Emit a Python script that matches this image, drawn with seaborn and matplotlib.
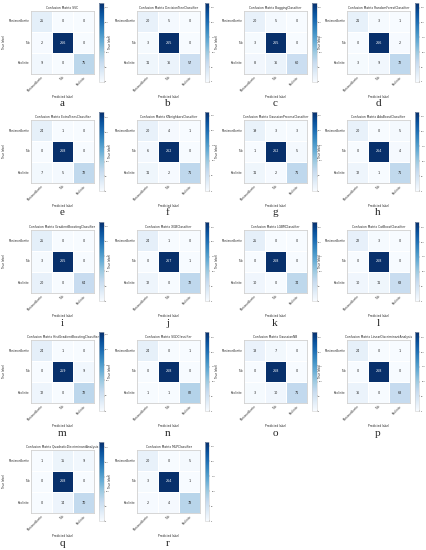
import numpy as np
import matplotlib
matplotlib.use("Agg")
import matplotlib.pyplot as plt
import seaborn as sns

sns.set_style("white")
plt.rcParams['font.family'] = ['DejaVu Sans']

classes = ["Montmorillonite", "Talc", "Kaolinite"]

models = ["SVC", "DecisionTreeClassifier", "BaggingClassifier", "RandomForestClassifier",
          "ExtraTreesClassifier", "KNeighborsClassifier", "GaussianProcessClassifier", "AdaBoostClassifier",
          "GradientBoostingClassifier", "XGBClassifier", "LGBMClassifier", "CatBoostClassifier",
          "HistGradientBoostingClassifier", "SGDClassifier", "GaussianNB", "LinearDiscriminantAnalysis",
          "QuadraticDiscriminantAnalysis", "MLPClassifier"]

letters = list("abcdefghijklmnopqr")

cm_svc = [[25, 0, 0], [2, 266, 0], [9, 0, 75]]
cm_dt = [[20, 5, 0], [3, 265, 0], [11, 16, 57]]
cm_bag = [[20, 5, 0], [3, 265, 0], [8, 16, 60]]
cm_rf = [[21, 3, 1], [0, 266, 2], [3, 9, 72]]
cm_et = [[24, 1, 0], [0, 268, 0], [7, 5, 72]]
cm_knn = [[20, 4, 1], [6, 262, 0], [11, 2, 71]]
cm_gp = [[19, 3, 3], [1, 262, 5], [11, 2, 71]]
cm_ada = [[20, 0, 5], [0, 264, 4], [12, 1, 71]]
cm_gb = [[25, 0, 0], [3, 265, 0], [20, 0, 64]]
cm_xgb = [[24, 1, 0], [0, 267, 1], [12, 0, 72]]
cm_lgbm = [[25, 0, 0], [0, 268, 0], [10, 0, 74]]
cm_cat = [[22, 3, 0], [0, 268, 0], [10, 11, 63]]
cm_hgb = [[24, 1, 0], [0, 259, 9], [12, 0, 72]]
cm_sgd = [[24, 0, 1], [0, 268, 0], [1, 1, 82]]
cm_gnb = [[18, 7, 0], [0, 268, 0], [3, 10, 71]]
cm_lda = [[24, 0, 1], [0, 268, 0], [16, 0, 68]]
cm_qda = [[1, 15, 9], [0, 268, 0], [0, 14, 70]]
cm_mlp = [[20, 0, 5], [3, 264, 1], [2, 4, 78]]

matrices = [cm_svc, cm_dt, cm_bag, cm_rf, cm_et, cm_knn, cm_gp, cm_ada, cm_gb, cm_xgb,
            cm_lgbm, cm_cat, cm_hgb, cm_sgd, cm_gnb, cm_lda, cm_qda, cm_mlp]

W, H = 427, 550
fig = plt.figure(figsize=(W / 100, H / 100), dpi=100)
fig.patch.set_facecolor("white")

col_x = [0, 106, 213, 316]
row_y = [0, 109, 219, 329, 439]


def ax_px(x, y, w, h):
    return fig.add_axes([x / W, 1 - (y + h) / H, w / W, h / H])


for i, (name, cm, letter) in enumerate(zip(models, matrices, letters)):
    r, c = divmod(i, 4)
    x0, y0 = col_x[c], row_y[r]
    ax = ax_px(x0 + 31, y0 + 11, 63, 63)
    cax = ax_px(x0 + 99, y0 + 3, 4.5, 79)
    sns.heatmap(np.array(cm), annot=True, fmt="d", cmap="Blues", ax=ax, cbar_ax=cax,
                xticklabels=classes, yticklabels=classes, annot_kws={"size": 2.4},
                linewidths=0.4, linecolor="white", vmin=0)
    ax.set_title(f"Confusion Matrix {name}", fontsize=2.2, pad=1.5)
    ax.set_xlabel("Predicted label", fontsize=2.1, labelpad=1.5)
    ax.set_ylabel("True label", fontsize=2.1, labelpad=2)
    ax.tick_params(axis="both", labelsize=1.9, length=0, pad=1)
    plt.setp(ax.get_xticklabels(), rotation=45, ha="right", rotation_mode="anchor")
    plt.setp(ax.get_yticklabels(), rotation=0)
    for s in ax.spines.values():
        s.set_visible(True)
        s.set_color("#d0d0d0")
        s.set_linewidth(0.6)
    cax.tick_params(labelsize=1.4, length=0.8, width=0.3, pad=0.5)
    cb = ax.collections[0].colorbar
    cb.outline.set_visible(True)
    cb.outline.set_edgecolor("#d0d0d0")
    cb.outline.set_linewidth(0.4)
    fig.text((x0 + 62) / W, 1 - (y0 + 104) / H, letter, ha="center", va="center",
             fontsize=8, family="Liberation Serif")

fig.savefig("out.png", dpi=100, facecolor="white")
